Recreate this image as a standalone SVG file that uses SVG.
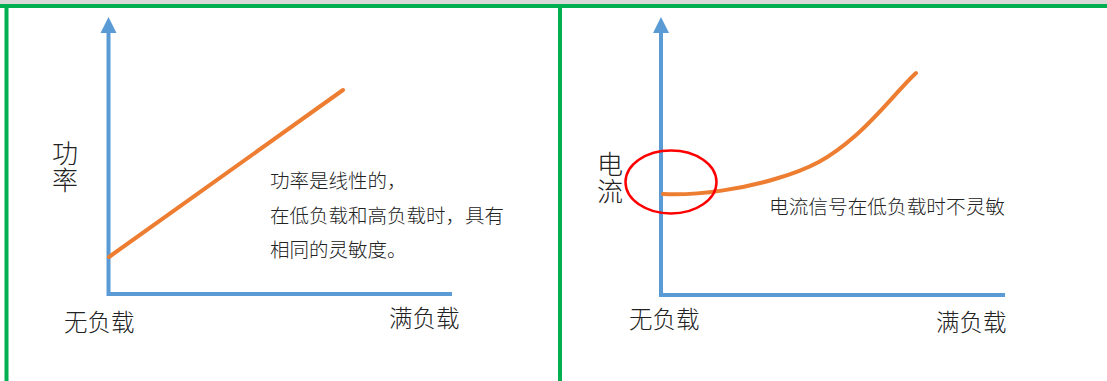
<svg xmlns="http://www.w3.org/2000/svg" width="1107" height="381" viewBox="0 0 1107 381">
<style>
.frame{stroke:#00b050;stroke-width:4;fill:none}
.axis{stroke:#5b9bd5;stroke-width:4;fill:none}
.head{fill:#5b9bd5}
.curve{stroke:#ed7d31;stroke-width:4;fill:none;stroke-linecap:round}
.t{font-family:"Noto Sans CJK SC","Noto Sans CJK JP",sans-serif;fill:#222;font-weight:300}
.big{font-size:26px;writing-mode:vertical-rl;letter-spacing:1px}
.lab{font-size:23.5px}
.note{font-size:19.5px}
</style>
<rect x="0" y="0" width="1107" height="381" fill="#ffffff"/>
<rect x="0" y="0" width="1107" height="4" fill="#d9d9d9"/>
<g id="frame">
<line class="frame" x1="0" y1="6" x2="1107" y2="6"/>
<line class="frame" x1="6.5" y1="6" x2="6.5" y2="381"/>
<line class="frame" x1="560" y1="6" x2="560" y2="381"/>
</g>
<g id="left-chart">
<line class="axis" x1="108.5" y1="32" x2="108.5" y2="296"/>
<polygon class="head" points="108.5,17 100.5,33 116.5,33"/>
<line class="axis" x1="107" y1="294" x2="452" y2="294"/>
<line class="curve" x1="109" y1="257" x2="343" y2="90"/>
<text class="t big" x="65" y="140">功率</text>
<text class="t lab" x="64" y="331">无负载</text>
<text class="t lab" x="389" y="327">满负载</text>
<text class="t note" x="270" y="188">功率是线性的，</text>
<text class="t note" x="270" y="223">在低负载和高负载时，具有</text>
<text class="t note" x="270" y="257">相同的灵敏度。</text>
</g>
<g id="right-chart">
<line class="axis" x1="661" y1="32" x2="661" y2="297"/>
<polygon class="head" points="661,17 653,33 669,33"/>
<line class="axis" x1="659" y1="295" x2="1005" y2="295"/>
<path class="curve" d="M663,194 C700,196 745,188 775,179 C810,169 830,158 855,136 C880,114 898,90 916,73"/>
<ellipse cx="671" cy="182" rx="45.5" ry="31.5" fill="none" stroke="#ff0000" stroke-width="2.5"/>
<text class="t big" x="610" y="151">电流</text>
<text class="t note" x="769" y="214" textLength="236" lengthAdjust="spacingAndGlyphs">电流信号在低负载时不灵敏</text>
<text class="t lab" x="629" y="328">无负载</text>
<text class="t lab" x="936" y="331">满负载</text>
</g>
</svg>
